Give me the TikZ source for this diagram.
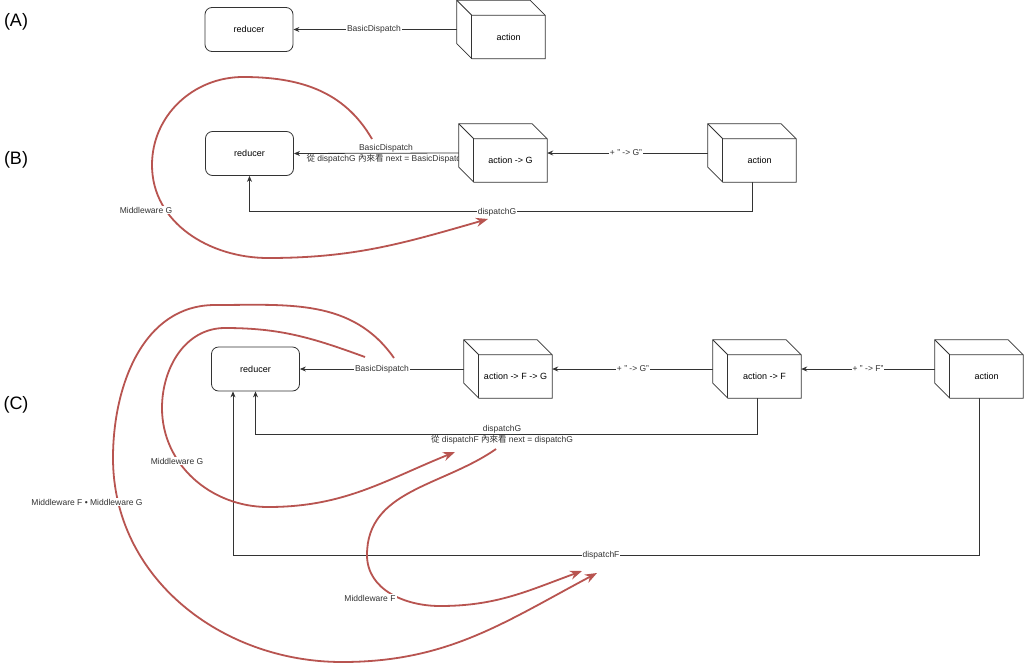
\documentclass[tikz,border=0pt]{standalone}
\usepackage{fontspec}
\setmainfont{Liberation Sans}
\newfontfamily\cjk{Noto Sans CJK TC}
\usetikzlibrary{arrows.meta,calc}
\definecolor{mwred}{HTML}{B85450}
\definecolor{ln}{HTML}{333333}
\tikzset{
 redbox/.style={draw=ln, line width=0.8pt, rounded corners=7pt, fill=white, minimum width=88pt, minimum height=44pt, inner sep=0pt, font=\fontsize{9}{10}\selectfont},
 cubebb/.style={inner sep=0pt, minimum width=88pt, minimum height=58pt},
 cubeface/.style={draw=ln, line width=0.8pt, fill=white, line join=miter},
 cubeedge/.style={draw=ln, line width=0.8pt},
 cubetext/.style={font=\fontsize{9}{10}\selectfont, inner sep=0pt},
 conn/.style={draw=ln, line width=0.8pt, -{Stealth[length=6pt,width=5pt]}},
 elabel/.style={fill=white, inner sep=0.6pt, font=\fontsize{8.5}{11}\selectfont, text=ln, align=center},
 elabel2/.style={inner sep=0.6pt, font=\fontsize{8.5}{11.5}\selectfont, text=ln, align=center},
 mw/.style={draw=mwred, line width=1.8pt, -{Stealth[length=12pt,width=9pt]}},
 mwlabel/.style={fill=white, inner sep=1pt, font=\fontsize{8.5}{10}\selectfont, text=ln},
 sec/.style={font=\fontsize{18}{20}\selectfont, inner sep=0pt},
}
\newcommand\cubeshape[2]{%
  \path[cubeface] (#1.north west) -- ([xshift=-15pt]#1.north east) -- ([yshift=-15pt]#1.north east) -- (#1.south east) -- ([xshift=15pt]#1.south west) -- ([yshift=15pt]#1.south west) -- cycle;
  \draw[cubeedge] (#1.north west) -- ([xshift=15pt,yshift=-15pt]#1.north west) -- ([yshift=-15pt]#1.north east);
  \draw[cubeedge] ([xshift=15pt,yshift=-15pt]#1.north west) -- ([xshift=15pt]#1.south west);
  \node[cubetext] at ([xshift=7.5pt,yshift=-7.5pt]#1.center) {#2};
}
\begin{document}
\begin{tikzpicture}[x=1pt,y=-1pt]
\fill[white] (0,0) rectangle (1024,664);
\useasboundingbox (0,0) rectangle (1024,664);

% section labels
\node[sec] (secA) at (16,22) {(A)};
\node[sec] (secB) at (16,160) {(B)};
\node[sec] (secC) at (16,405) {(C)};

% reducers
\node[redbox] (redA) at (249,29.5) {reducer};
\node[redbox] (redB) at (249.5,153.5) {reducer};
\node[redbox] (redC) at (255.5,369) {reducer};

% cube bounding nodes
\node[cubebb] (actA) at (501,29.5) {};
\node[cubebb] (actGB) at (503,153) {};
\node[cubebb] (actB) at (752,153) {};
\node[cubebb] (actFGC) at (508,369) {};
\node[cubebb] (actFC) at (757,369) {};
\node[cubebb] (actC) at (979,369) {};

% (A)
\draw[conn] (actA.west) -- (redA.east);
\node[elabel] (lA) at (374,29.5) {BasicDispatch};

% (B)
\draw[conn] (actGB.west) -- (redB.east);
\draw[conn] (actB.west) -- (actGB.east);
\draw[conn] (actB.south) -- ++(0,29) -| (redB.south);

% (C)
\draw[conn] (actFGC.west) -- (redC.east);
\draw[conn] (actFC.west) -- (actFGC.east);
\draw[conn] (actC.west) -- (actFC.east);
\draw[conn] (actFC.south) -- ++(0,36) -| (redC.south);
\draw[conn] (actC.south) -- ++(0,157) -| ([xshift=-22.5pt]redC.south);

% red middleware curves
\draw[mw] (372,139) to[out=120,in=0] (243,77) to[out=180,in=90] (152,165) to[out=-90,in=180] (268,258) to[out=0,in=196] (488,219);
\draw[mw] (365,357) to[out=160,in=0] (225,328) to[out=180,in=90] (162,408) to[out=-90,in=180] (268,507) to[out=0,in=202] (455,452);
\draw[mw] (394,358) to[out=125,in=0] (215,305) to[out=180,in=90] (113,458) to[out=-90,in=180] (342,662) to[out=0,in=208] (597,573);
\draw[mw] (496,449) to[out=215,in=90] (367,555) to[out=-90,in=180] (440,606) to[out=0,in=200] (582,571);

% edge labels
\node[elabel2] (lB1) at (386,154) {BasicDispatch\\{\cjk 從} dispatchG {\cjk 內來看} next = BasicDispatch};
\node[elabel] (lB2) at (626,153) {+ " -> G"};
\node[elabel] (lB3) at (497,212) {dispatchG};
\node[elabel] (lC1) at (382,369) {BasicDispatch};
\node[elabel] (lC2) at (633,369) {+ " -> G"};
\node[elabel] (lC3) at (868,369) {+ " -> F"};
\node[elabel2] (lC4) at (502,435) {dispatchG\\{\cjk 從} dispatchF {\cjk 內來看} next = dispatchG};
\node[elabel] (lC5) at (601,555) {dispatchF};

% middleware labels
\node[mwlabel] (mB) at (146,210) {Middleware G};
\node[mwlabel] (mCG) at (177,461) {Middleware G};
\node[mwlabel] (mCFG) at (87,502) {Middleware F • Middleware G};
\node[mwlabel] (mCF) at (370,598) {Middleware F};

% cubes
\cubeshape{actA}{action}
\cubeshape{actGB}{action -> G}
\cubeshape{actB}{action}
\cubeshape{actFGC}{action -> F -> G}
\cubeshape{actFC}{action -> F}
\cubeshape{actC}{action}
\end{tikzpicture}
\end{document}
